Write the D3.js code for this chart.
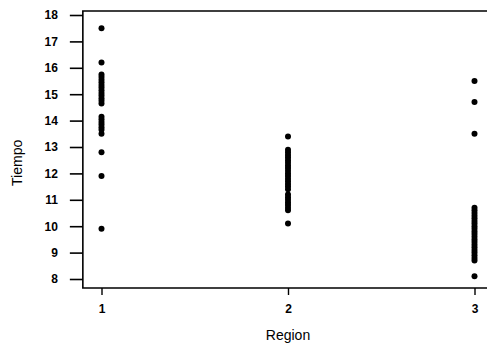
<!DOCTYPE html>
<html>
<head>
<meta charset="utf-8">
<script src="https://cdn.jsdelivr.net/npm/d3@7"></script>
<style>
  body { margin: 0; background: #fff; }
  text { font-family: "Liberation Sans", Arial, sans-serif; fill: #000; }
</style>
</head>
<body>
<svg id="chart" width="487" height="351"></svg>
<script>
// values
var regions = [1, 2, 3];
var yTicks = [8, 9, 10, 11, 12, 13, 14, 15, 16, 17, 18];
var tiempo1 = [17.5, 16.2, 15.75, 15.65, 15.55, 15.45, 15.35, 15.25, 15.15, 15.05, 14.95, 14.85, 14.75, 14.65,
               14.15, 14.05, 13.95, 13.85, 13.75, 13.65, 13.5, 12.8, 11.9, 9.9];
var tiempo2 = [13.4, 12.9, 12.8, 12.7, 12.6, 12.5, 12.4, 12.3, 12.2, 12.1, 12.0, 11.9, 11.8, 11.7, 11.6,
               11.5, 11.4, 11.2, 11.1, 11.0, 10.9, 10.8, 10.7, 10.6, 10.1];
var tiempo3 = [15.5, 14.7, 13.5, 10.7, 10.6, 10.5, 10.4, 10.3, 10.2, 10.1, 10.0, 9.9, 9.8, 9.7, 9.6,
               9.5, 9.4, 9.3, 9.2, 9.1, 9.0, 8.9, 8.8, 8.7, 8.1];

var points = [];
[tiempo1, tiempo2, tiempo3].forEach(function (arr, i) {
    arr.forEach(function (v) { points.push({ region: regions[i], tiempo: v }); });
});

var svg = d3.select("#chart");

var x = d3.scaleLinear().domain([1, 3]).range([101.5, 474.5]);
var y = d3.scaleLinear().domain([8, 18]).range([279, 15]);

var frameLeft = x(0.9), frameRight = x(3.1);
var frameTop = y(18.15), frameBottom = y(7.66);

// frame
svg.append("path")
    .attr("d", "M" + frameRight + "," + frameTop + "H" + frameLeft + "V" + frameBottom + "H" + frameRight)
    .attr("fill", "none")
    .attr("stroke", "#000")
    .attr("stroke-width", 1.6);

// y axis
var yAxis = svg.append("g")
    .attr("transform", "translate(" + frameLeft + ",0)")
    .call(d3.axisLeft(y).tickValues(yTicks).tickSize(13).tickPadding(12).tickFormat(d3.format("d")));
yAxis.select(".domain").remove();
yAxis.selectAll("line").attr("stroke", "#000").attr("stroke-width", 1.6);
yAxis.selectAll("text")
    .style("font-size", "12px")
    .style("font-weight", "bold")
    .attr("fill", "#000");

// x axis
var xAxis = svg.append("g")
    .attr("transform", "translate(0," + frameBottom + ")")
    .call(d3.axisBottom(x).tickValues(regions).tickSize(7).tickPadding(10).tickFormat(d3.format("d")));
xAxis.select(".domain").remove();
xAxis.selectAll("line").attr("stroke", "#000").attr("stroke-width", 1.4);
xAxis.selectAll("text")
    .style("font-size", "12px")
    .style("font-weight", "bold")
    .attr("fill", "#000");

// titles
svg.append("text")
    .attr("x", x(2))
    .attr("y", 340)
    .attr("text-anchor", "middle")
    .style("font-size", "14px")
    .text("Region");

svg.append("text")
    .attr("transform", "translate(22," + y(12.4) + ") rotate(-90)")
    .attr("text-anchor", "middle")
    .style("font-size", "14px")
    .text("Tiempo");

// points
svg.append("g")
    .selectAll("circle")
    .data(points)
    .join("circle")
    .attr("cx", function (d) { return x(d.region); })
    .attr("cy", function (d) { return y(d.tiempo); })
    .attr("r", 3)
    .attr("fill", "#000");
</script>
</body>
</html>
